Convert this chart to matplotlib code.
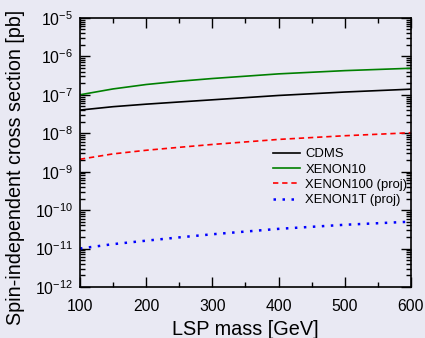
import numpy as np
import matplotlib
matplotlib.use("Agg")
import matplotlib.pyplot as plt
from matplotlib.ticker import LogLocator, MultipleLocator, LogFormatterSciNotation

plt.rcParams['font.family'] = ['Liberation Sans', 'DejaVu Sans']
plt.rcParams['mathtext.fontset'] = 'custom'
plt.rcParams['mathtext.rm'] = 'Liberation Sans'
plt.rcParams['mathtext.default'] = 'regular'

# LSP mass [GeV] and cross sections [pb]
mass = [100, 150, 200, 250, 300, 400, 500, 600]
cdms = [4.0e-8, 4.9e-8, 5.7e-8, 6.5e-8, 7.4e-8, 9.6e-8, 1.18e-7, 1.4e-7]
xenon10 = [1.0e-7, 1.42e-7, 1.85e-7, 2.25e-7, 2.65e-7, 3.5e-7, 4.25e-7, 4.9e-7]
xenon100 = [2.1e-9, 2.9e-9, 3.6e-9, 4.3e-9, 5.1e-9, 6.9e-9, 8.6e-9, 1.03e-8]
xenon1t = [1.0e-11, 1.3e-11, 1.6e-11, 1.95e-11, 2.35e-11, 3.25e-11, 4.15e-11, 5.0e-11]

bg = '#e9e9f3'
fig = plt.figure(figsize=(4.25, 3.38), dpi=100, facecolor=bg)
ax = fig.add_axes([0.188, 0.151, 0.779, 0.796], facecolor=bg)

ax.plot(mass, cdms, color='black', lw=1.2, label='CDMS')
ax.plot(mass, xenon10, color='#008000', lw=1.2, label='XENON10')
ax.plot(mass, xenon100, color='red', lw=1.2, ls=(0, (3.2, 2.3)), label='XENON100 (proj)')
ax.plot(mass, xenon1t, color='blue', lw=1.8, ls=(0, (1, 2.6)), label='XENON1T (proj)')

ax.set_yscale('log')
ax.set_xlim(100, 600)
ax.set_ylim(1e-12, 1e-5)
ax.xaxis.set_major_locator(MultipleLocator(100))
ax.xaxis.set_minor_locator(MultipleLocator(50))
ax.yaxis.set_major_locator(LogLocator(base=10, numticks=20))
ax.yaxis.set_minor_locator(LogLocator(base=10, subs=np.arange(2, 10), numticks=100))
ax.yaxis.set_major_formatter(LogFormatterSciNotation())

ax.tick_params(which='both', direction='in', top=True, right=True, width=1, labelsize=11.3)
ax.tick_params(which='major', length=7)
ax.tick_params(which='minor', length=3.5)
ax.tick_params(axis='x', which='major', pad=9)
ax.tick_params(axis='y', which='major', pad=5)
for s in ax.spines.values():
    s.set_linewidth(1.2)

ax.set_xlabel('LSP mass [GeV]', fontsize=14.3, labelpad=4)
ax.set_ylabel('Spin-independent cross section [pb]', fontsize=14.2)
ax.yaxis.set_label_coords(-0.166, 0.444)

ax.legend(loc='upper left', bbox_to_anchor=(0.549, 0.56), frameon=False, fontsize=9.4,
          handlelength=2.0, handletextpad=0.45, labelspacing=0.25)

fig.savefig('out.png', dpi=100, facecolor=bg)
